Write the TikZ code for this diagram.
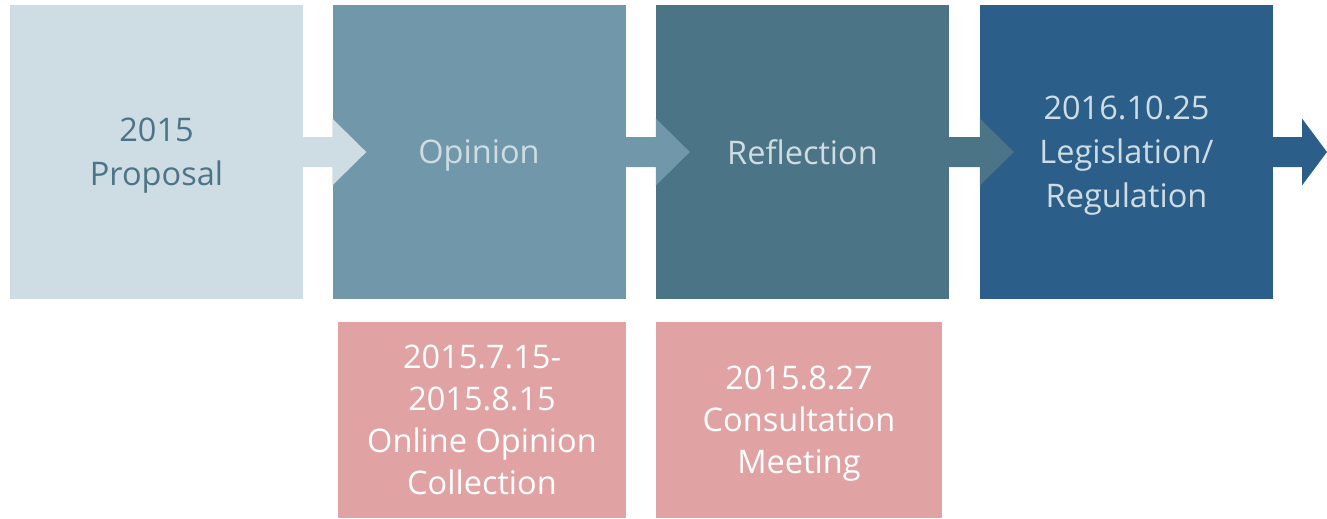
\documentclass[tikz,border=0pt]{standalone}
\usepackage{fontspec}
\setmainfont{Open Sans}
\usepackage{tikz}
\usetikzlibrary{calc}
\definecolor{StageA}{HTML}{CEDCE3}
\definecolor{StageB}{HTML}{7098AA}
\definecolor{StageC}{HTML}{4C7487}
\definecolor{StageD}{HTML}{2B5F8A}
\definecolor{DateFill}{HTML}{E0A2A2}
\tikzset{
	StageBox/.style={minimum width=293pt, minimum height=294pt, inner sep=0pt, align=center,
		text depth=0pt, font=\fontsize{32.5}{44}\selectfont, text=StageA},
	DateBox/.style={fill=DateFill, minimum height=196pt, inner sep=0pt, align=center,
		text depth=0pt, font=\fontsize{32.5}{42}\selectfont, text=white}
}

\begin{document}
\begin{tikzpicture}[x=1pt, y=-1pt]
		\useasboundingbox (0,0) rectangle (1327,519);
		\def\shaft{15} % Half height of the arrow shaft
		\def\head{33.5} % Half height of the arrow head

		% Stages
		\node[StageBox, fill=StageA, text=StageC] (proposal) at (156.5,152) {2015\\Proposal};
		\node[StageBox, fill=StageB] (opinion) at (479,152) {Opinion};
		\node[StageBox, fill=StageC] (reflection) at (802.5,152) {Reflection};
		\node[StageBox, fill=StageD] (legislation) at (1126.5,152) {2016.10.25\\Legislation/\\Regulation};
		\coordinate (end) at (1302,152);

		% Arrows between the stages
		\foreach \a/\b/\c/\l in {proposal.east/opinion.west/StageA/34,
				opinion.east/reflection.west/StageB/34,
				reflection.east/legislation.west/StageC/34,
				legislation.east/end/StageD/25}
			\fill[\c] ($(\a)+(0,-\shaft)$) -- ($(\b)+(0,-\shaft)$) -- ($(\b)+(0,-\head)$)
				-- ($(\b)+(\l,0)$) -- ($(\b)+(0,\head)$) -- ($(\b)+(0,\shaft)$)
				-- ($(\a)+(0,\shaft)$) -- cycle;

		% Dates under the stages
		\node[DateBox, minimum width=288pt] (collection) at (482,420)
			{2015.7.15-\\2015.8.15\\Online Opinion\\Collection};
		\node[DateBox, minimum width=286pt] (meeting) at (799,420)
			{2015.8.27\\Consultation\\Meeting};
	\end{tikzpicture}
\end{document}
